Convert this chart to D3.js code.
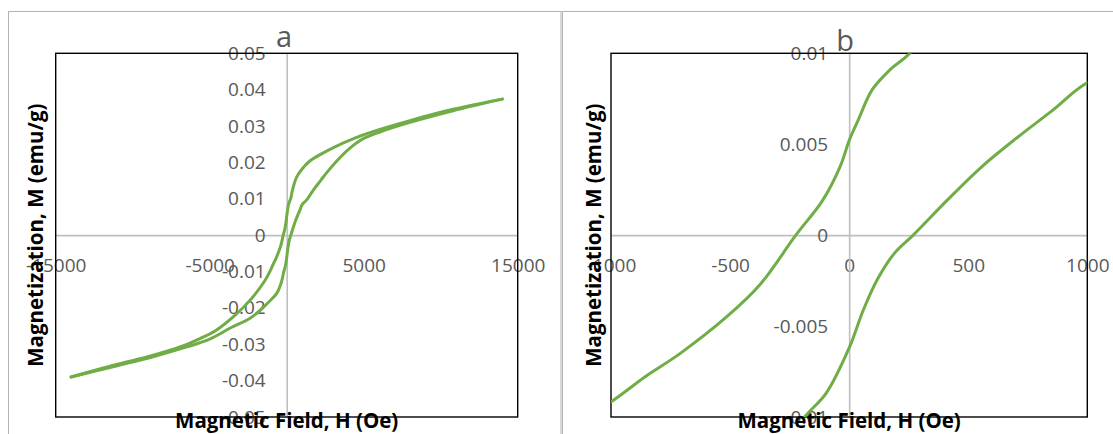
<!DOCTYPE html>
<html>
<head>
<meta charset="utf-8">
<script src="https://cdn.jsdelivr.net/npm/d3@7"></script>
<style>
  body { margin: 0; background: #fff; }
  text { font-family: "Open Sans", sans-serif; }
  .tick text { fill: #595959; font-size: 19px; }
  .axis-title { font-weight: bold; font-size: 20.5px; fill: #000; }
  .chart-title { font-size: 29px; fill: #595959; }
</style>
</head>
<body>
<svg width="1113" height="434"></svg>
<script>
// descending branch (from +H saturation down), field in Oe, magnetization in emu/g
const descField = [14000, 10800, 8000, 6000, 4500, 3000, 2200, 1500, 1000, 650, 400, 254, 172, 97, 37, 0,
  -37, -112, -224, -373, -515, -709, -858, -993, -1400, -2400, -3400, -4600, -5500, -6700, -8900, -11000, -14000];
const descMag = [0.0374, 0.0346, 0.0315, 0.0290, 0.0268, 0.0240, 0.0222, 0.0204, 0.0182, 0.0160, 0.0128, 0.0100, 0.0091, 0.0080, 0.0063, 0.0052,
  0.0038, 0.0019, 0.0000, -0.0027, -0.0045, -0.0065, -0.0078, -0.0091, -0.0124, -0.0180, -0.0222, -0.0262, -0.0282, -0.0304, -0.0333, -0.0355, -0.0390];

// ascending branch (from -H saturation up)
const ascField = [-14000, -11000, -8900, -6700, -5000, -3600, -2400, -1700, -1200, -650, -350, -187, -97, 0, 60, 120, 190, 269,
  410, 560, 709, 858, 1003, 1300, 1730, 2200, 2600, 3500, 4300, 5000, 6000, 8000, 10800, 14000];
const ascMag = [-0.0390, -0.0359, -0.0337, -0.0310, -0.0286, -0.0254, -0.0229, -0.0206, -0.0185, -0.0160, -0.0130, -0.0100, -0.0087, -0.0062, -0.0041, -0.0024, -0.0010, 0.0000,
  0.0019, 0.0038, 0.0054, 0.0069, 0.0084, 0.0097, 0.0124, 0.0150, 0.0172, 0.0215, 0.0246, 0.0266, 0.0283, 0.0310, 0.0342, 0.0374];

const xTicksA = [-15000, -5000, 5000, 15000];
const yTicksA = [-0.05, -0.04, -0.03, -0.02, -0.01, 0, 0.01, 0.02, 0.03, 0.04, 0.05];
const xTicksB = [-1000, -500, 0, 500, 1000];
const yTicksB = [-0.01, -0.005, 0, 0.005, 0.01];

const xAxisLabel = "Magnetic Field, H (Oe)";
const yAxisLabel = "Magnetization, M (emu/g)";

const svg = d3.select('svg');

const branches = [
  descField.map((h, i) => ({ h, m: descMag[i] })),
  ascField.map((h, i) => ({ h, m: ascMag[i] }))
];

const panels = [
  { id: 'a', frame: [8.5, 11.5, 552.5], left: 55.7, right: 517.7, top: 53.3, bottom: 417,
    xDomain: [-15000, 15000], yDomain: [-0.05, 0.05], xTicks: xTicksA, yTicks: yTicksA,
    titleX: 284, titleY: 47, yTitleX: 43 },
  { id: 'b', frame: [562.5, 11.5, 600], left: 611, right: 1087.3, top: 53.3, bottom: 417,
    xDomain: [-1000, 1000], yDomain: [-0.01, 0.01], xTicks: xTicksB, yTicks: yTicksB,
    titleX: 845, titleY: 51, yTitleX: 601 }
];

panels.forEach(p => {
  // chart frame
  svg.append('rect')
    .attr('x', p.frame[0]).attr('y', p.frame[1])
    .attr('width', p.frame[2]).attr('height', 500)
    .attr('fill', 'none')
    .attr('stroke', '#b3b3b3')
    .attr('stroke-width', 1);

  const xScale = d3.scaleLinear().domain(p.xDomain).range([p.left, p.right]);
  const yScale = d3.scaleLinear().domain(p.yDomain).range([p.bottom, p.top]);

  const xAxis = d3.axisBottom(xScale)
    .tickValues(p.xTicks)
    .tickFormat(d => String(d))
    .tickSize(0).tickSizeOuter(0).tickPadding(23);
  const yAxis = d3.axisLeft(yScale)
    .tickValues(p.yTicks)
    .tickFormat(d => String(d))
    .tickSize(0).tickSizeOuter(0).tickPadding(21);

  const xg = svg.append('g')
    .attr('transform', `translate(0, ${yScale(0)})`)
    .call(xAxis);
  const yg = svg.append('g')
    .attr('transform', `translate(${xScale(0)}, 0)`)
    .call(yAxis);
  [xg, yg].forEach(g => {
    g.attr('font-family', null).attr('font-size', null);
    g.select('.domain').attr('stroke', '#bfbfbf').attr('stroke-width', 1.6);
  });

  // plot area border
  svg.append('rect')
    .attr('x', p.left).attr('y', p.top)
    .attr('width', p.right - p.left).attr('height', p.bottom - p.top)
    .attr('fill', 'none')
    .attr('stroke', '#000')
    .attr('stroke-width', 1.4);

  svg.append('clipPath').attr('id', 'clip-' + p.id)
    .append('rect')
    .attr('x', p.left).attr('y', p.top)
    .attr('width', p.right - p.left).attr('height', p.bottom - p.top);

  const line = d3.line()
    .x(d => xScale(d.h))
    .y(d => yScale(d.m))
    .curve(d3.curveCatmullRom.alpha(0.5));

  svg.append('g')
    .attr('clip-path', `url(#clip-${p.id})`)
    .selectAll('path')
    .data(branches)
    .join('path')
    .attr('fill', 'none')
    .attr('stroke', '#70ad47')
    .attr('stroke-width', 3)
    .attr('stroke-linecap', 'round')
    .attr('stroke-linejoin', 'round')
    .attr('d', line);

  svg.append('text')
    .attr('class', 'chart-title')
    .attr('x', p.titleX).attr('y', p.titleY)
    .attr('text-anchor', 'middle')
    .text(p.id);

  svg.append('text')
    .attr('class', 'axis-title')
    .attr('x', (p.left + p.right) / 2).attr('y', 428)
    .attr('text-anchor', 'middle')
    .text(xAxisLabel);

  svg.append('text')
    .attr('class', 'axis-title')
    .attr('transform', `translate(${p.yTitleX}, ${(p.top + p.bottom) / 2}) rotate(-90)`)
    .attr('text-anchor', 'middle')
    .text(yAxisLabel);
});
</script>
</body>
</html>
